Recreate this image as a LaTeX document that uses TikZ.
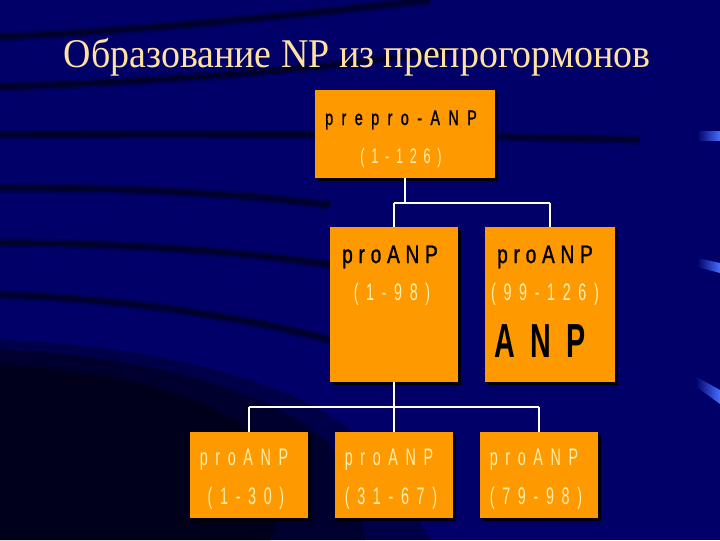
\documentclass[tikz,border=0pt]{standalone}
\usepackage{fontspec}
\setmainfont{Liberation Serif}
\newfontfamily\titlefont[FakeStretch=0.93]{Liberation Serif}
\newfontfamily\darkfont[FakeStretch=0.75,LetterSpace=23,FakeBold=1.2]{Liberation Sans}
\newfontfamily\headfont[FakeStretch=0.68,LetterSpace=40,FakeBold=1.2]{Liberation Sans}
\newfontfamily\palefont[FakeStretch=0.6,LetterSpace=32]{Liberation Sans}
\usetikzlibrary{shadows}

\definecolor{navy}{RGB}{0,0,104}
\definecolor{slideorange}{RGB}{255,153,0}
\definecolor{paleyellow}{RGB}{255,240,175}
\definecolor{titlecol}{RGB}{255,226,160}
\definecolor{streak}{RGB}{70,110,255}

\tikzset{
  box/.style={fill=slideorange,inner sep=0pt,
    drop shadow={shadow xshift=2pt,shadow yshift=-2pt,fill=black,opacity=1}},
  wire/.style={draw=white,line width=1.4pt},
  band/.style={draw=black,opacity=0.45,line width=3.5pt,
    preaction={draw=black,opacity=0.2,line width=7pt}},
  dark/.style={text=black,anchor=base},
  pale/.style={text=paleyellow,anchor=base},
}

\begin{document}
\begin{tikzpicture}[x=0.025cm,y=-0.025cm]
        \clip (0,0) rectangle (720,540);
        % background
        \fill[navy] (0,0) rectangle (720,540);
        \draw[band] (0,37) .. controls (150,30) and (300,15) .. (430,0);
        \draw[band] (0,87) .. controls (150,82) and (300,72) .. (450,50);
        \draw[band] (0,135) .. controls (200,133) and (450,135) .. (640,140);
        \draw[band] (0,188) .. controls (150,188) and (250,195) .. (330,205);
        \draw[band] (0,243) .. controls (120,243) and (250,252) .. (330,265);
        \draw[band] (0,295) .. controls (120,298) and (250,318) .. (330,340);
        \fill[black,opacity=0.3]
          (0,340) .. controls (150,345) and (290,380) .. (350,430)
          .. controls (390,465) and (410,505) .. (430,540) -- (0,540) -- cycle;
        \fill[black,opacity=0.35]
          (0,350) .. controls (140,355) and (270,390) .. (325,440)
          .. controls (350,470) and (360,500) .. (365,540) -- (0,540) -- cycle;
        \fill[black,opacity=0.4]
          (0,365) .. controls (120,370) and (230,400) .. (270,450)
          .. controls (285,475) and (285,505) .. (270,540) -- (0,540) -- cycle;
        \shade[left color=navy,right color=streak] (697,131) rectangle (720,140);
        \shade[left color=navy,right color=streak] (697,258) -- (720,263) -- (720,273) -- (697,267) -- cycle;
        \shade[left color=navy,right color=streak] (695,376) -- (720,390) -- (720,404) -- (698,388) -- cycle;

        % title
        \node[text=titlecol,anchor=base,font=\titlefont\fontsize{29}{34}\selectfont] (title) at (357,67)
          {Образование NP из препрогормонов};

        % boxes
        \node[box,minimum width=4.5cm,minimum height=2.2cm] (top) at (405,134) {};
        \node[box,minimum width=3.2cm,minimum height=3.875cm] (midL) at (394,304.5) {};
        \node[box,minimum width=3.25cm,minimum height=3.875cm] (midR) at (550,304.5) {};
        \node[box,minimum width=2.95cm,minimum height=2.15cm] (botL) at (249,475) {};
        \node[box,minimum width=2.95cm,minimum height=2.15cm] (botM) at (394,475) {};
        \node[box,minimum width=2.95cm,minimum height=2.15cm] (botR) at (539,475) {};

        % labels
        \node[dark,font=\headfont\fontsize{15}{18}\selectfont] (topA) at (401,125) {prepro-ANP};
        \node[pale,font=\palefont\fontsize{15}{18}\selectfont] (topB) at (401,163) {(1-126)};
        \node[dark,font=\darkfont\fontsize{18}{21}\selectfont] (midLA) at (390,263) {proANP};
        \node[pale,font=\palefont\fontsize{17}{20}\selectfont] (midLB) at (392,300) {(1-98)};
        \node[dark,font=\darkfont\fontsize{18}{21}\selectfont] (midRA) at (545,263) {proANP};
        \node[pale,font=\palefont\fontsize{17}{20}\selectfont] (midRB) at (545,300) {(99-126)};
        \node[dark,font=\palefont\bfseries\fontsize{34}{40}\selectfont] (midRC) at (540,357) {ANP};
        \node[pale,font=\palefont\fontsize{17}{20}\selectfont] (botLA) at (244,465) {proANP};
        \node[pale,font=\palefont\fontsize{17}{20}\selectfont] (botLB) at (246,504) {(1-30)};
        \node[pale,font=\palefont\fontsize{17}{20}\selectfont] (botMA) at (389,465) {proANP};
        \node[pale,font=\palefont\fontsize{17}{20}\selectfont] (botMB) at (391,504) {(31-67)};
        \node[pale,font=\palefont\fontsize{17}{20}\selectfont] (botRA) at (534,465) {proANP};
        \node[pale,font=\palefont\fontsize{17}{20}\selectfont] (botRB) at (536,504) {(79-98)};

        % connectors
        \coordinate (busA) at (0,203);
        \coordinate (busB) at (0,407);
        \draw[wire] (top.south) -- (top.south |- busA);
        \draw[wire] (midL.north |- busA) -- (midR.north |- busA);
        \draw[wire] (midL.north |- busA) -- (midL.north);
        \draw[wire] (midR.north |- busA) -- (midR.north);
        \draw[wire] (midL.south) -- (midL.south |- busB);
        \draw[wire] (botL.north |- busB) -- (botR.north |- busB);
        \draw[wire] (botL.north |- busB) -- (botL.north);
        \draw[wire] (botM.north |- busB) -- (botM.north);
        \draw[wire] (botR.north |- busB) -- (botR.north);
\end{tikzpicture}
\end{document}
